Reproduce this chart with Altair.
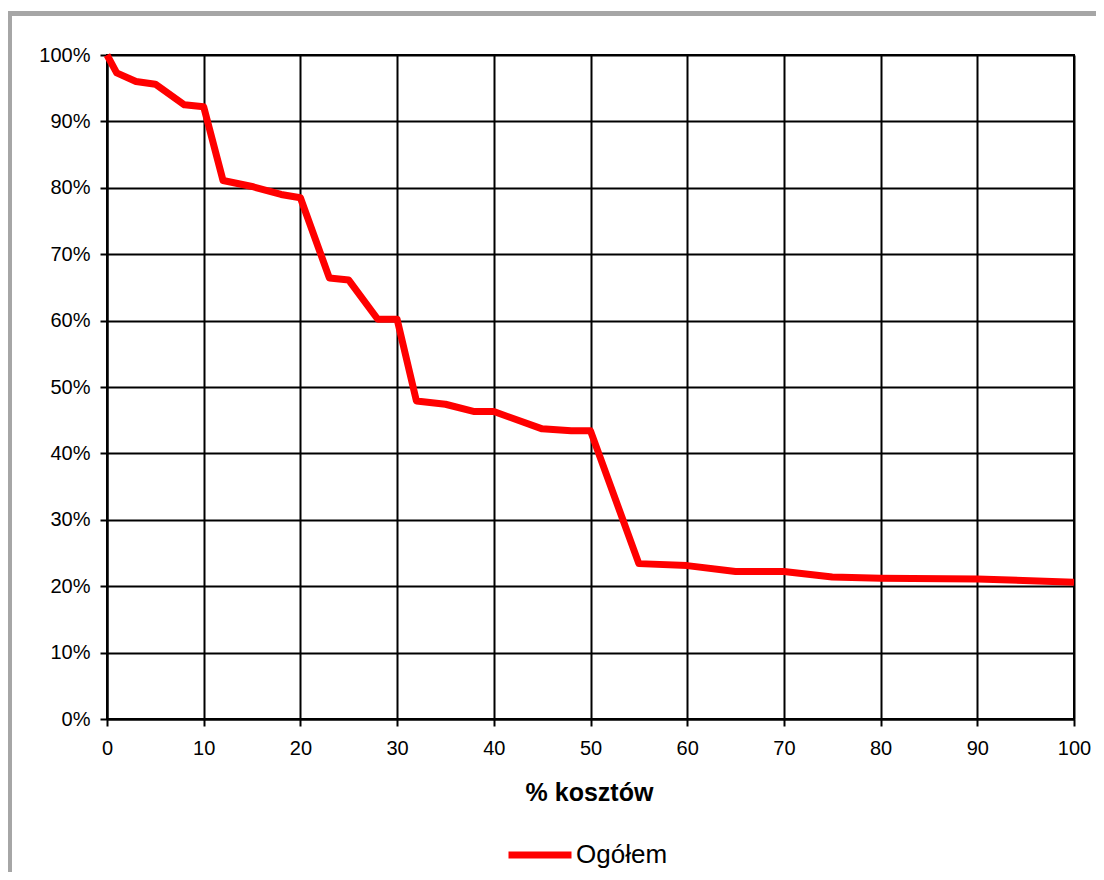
import altair as alt
import pandas as pd

# data
costs_pct = [0, 1, 3, 5, 8, 10, 12, 15, 18, 20, 23, 25, 28, 30, 32, 35, 38, 40,
             45, 48, 50, 55, 60, 65, 70, 75, 80, 90, 100]
share_pct = [100, 97.3, 96.0, 95.6, 92.5, 92.2, 81.1, 80.2, 79.0, 78.5, 66.4, 66.1,
             60.2, 60.2, 47.9, 47.4, 46.3, 46.3, 43.7, 43.4, 43.4, 23.4, 23.1,
             22.2, 22.2, 21.4, 21.2, 21.1, 20.6]
series_name = "Ogółem"
x_ticks = list(range(0, 101, 10))
y_ticks = [i / 10 for i in range(0, 11)]

df = pd.DataFrame({
    "x": costs_pct,
    "y": [v / 100 for v in share_pct],
    "s": [series_name] * len(costs_pct),
})

FONT = "Liberation Sans"

line = alt.Chart(df).mark_line(strokeWidth=7, strokeJoin="round", strokeCap="butt").encode(
    x=alt.X("x:Q",
            scale=alt.Scale(domain=[0, 100], nice=False, zero=False),
            axis=alt.Axis(values=x_ticks, title="% kosztów", format="d",
                          labelFontSize=20, labelFont=FONT, labelColor="black",
                          labelPadding=12, tickSize=7, tickColor="black", tickWidth=2,
                          domainColor="black", domainWidth=2,
                          gridColor="black", gridWidth=2, gridOpacity=1,
                          titleFont=FONT, titleFontSize=25, titleFontWeight="bold",
                          titleColor="black", titleBaseline="alphabetic",
                          titleY=81, titleX=482, labelFlush=False)),
    y=alt.Y("y:Q",
            scale=alt.Scale(domain=[0, 1], nice=False),
            axis=alt.Axis(values=y_ticks, format=".0%", title=None,
                          labelFontSize=20, labelFont=FONT, labelColor="black",
                          labelPadding=10, tickSize=7, tickColor="black", tickWidth=2,
                          domainColor="black", domainWidth=2,
                          gridColor="black", gridWidth=2, gridOpacity=1,
                          labelFlush=False)),
    color=alt.Color("s:N",
                    scale=alt.Scale(domain=[series_name], range=["#ff0000"]),
                    legend=alt.Legend(title=None, orient="none",
                                      legendX=398, legendY=765,
                                      symbolType="stroke", symbolSize=3969,
                                      symbolStrokeWidth=7, symbolStrokeColor="#ff0000",
                                      labelFont=FONT, labelFontSize=26,
                                      labelColor="black", labelOffset=1,
                                      padding=0)),
)

# outer grey chart-area frame (Excel style), running off the page edge
frame_left = alt.Chart(df).mark_rule(color="#a6a6a6", strokeWidth=4).encode(
    x=alt.value(-97.5), y=alt.value(-43.5), y2=alt.value(900)
)
frame_top = alt.Chart(df).mark_rule(color="#a6a6a6", strokeWidth=4).encode(
    x=alt.value(-99.5), x2=alt.value(1100), y=alt.value(-41.5)
)

chart = alt.layer(frame_left, frame_top, line).properties(
    width=967, height=664,
    autosize=alt.AutoSizeParams(type="none"),
    padding={"left": 99, "top": 47, "right": 22, "bottom": 153},
    background="white",
).configure_view(stroke="black", strokeWidth=2)

chart.save("out.html", embed_options={"renderer": "svg", "actions": False})
